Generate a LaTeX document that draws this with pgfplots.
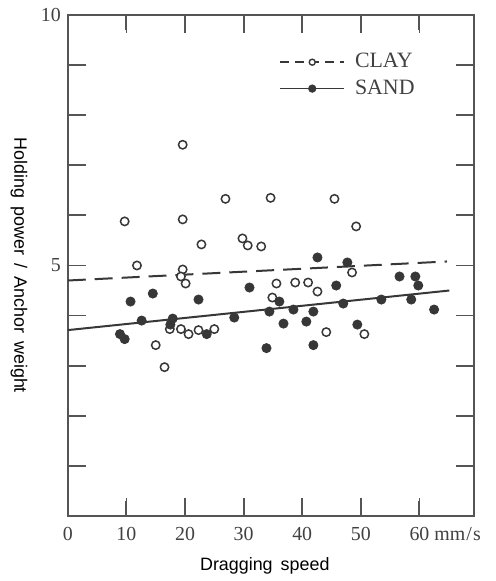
\documentclass[border=0pt]{standalone}
\usepackage{pgfplots}
\pgfplotsset{compat=1.18}
\usepackage{pgfplotstable}
\usepackage{fontspec}
\setmainfont{Liberation Serif}
\newfontfamily\labelfont{Liberation Sans}
\definecolor{axisgray}{RGB}{85,85,85}
\definecolor{textgray}{RGB}{65,65,65}
\definecolor{markgray}{RGB}{55,55,55}

% open circles
\pgfplotstableread{
x y
19.6 7.41
9.7 5.88
19.6 5.92
26.9 6.33
34.6 6.35
45.5 6.33
22.8 5.42
29.8 5.54
30.7 5.40
33.0 5.38
49.2 5.78
11.8 5.00
19.6 4.92
19.3 4.78
20.1 4.64
35.6 4.64
38.8 4.66
41.0 4.66
42.6 4.48
34.9 4.36
48.5 4.86
44.1 3.67
50.6 3.63
17.4 3.73
19.3 3.73
20.6 3.63
22.3 3.71
25.0 3.73
15.0 3.41
16.5 2.97
}\claydata

% filled circles
\pgfplotstableread{
x y
10.7 4.28
14.5 4.44
22.3 4.32
12.6 3.90
17.9 3.94
17.5 3.82
8.9 3.63
9.7 3.53
23.7 3.63
28.4 3.96
31.0 4.56
34.4 4.08
36.1 4.28
38.5 4.12
41.9 4.08
47.0 4.24
36.8 3.84
40.7 3.88
49.4 3.82
33.9 3.35
41.9 3.41
42.6 5.16
47.7 5.06
45.8 4.60
56.6 4.78
59.3 4.78
59.8 4.60
53.5 4.32
58.6 4.32
62.5 4.12
}\sanddata

\begin{document}
\begin{tikzpicture}
\begin{axis}[
  scale only axis,
  width=203.5bp, height=251bp,
  xmin=0, xmax=69.3, ymin=0, ymax=10,
  axis line style={draw=axisgray, line width=0.9bp},
  xtick={0,10,...,60},
  xticklabels={0,10,20,30,40,50,60\rlap{ mm\kern0.6pt/\kern0.6pt s}},
  ytick={1,...,10},
  yticklabels={,,,,5,,,,,10},
  tick style={color=axisgray, line width=0.9bp},
  tick align=inside,
  major tick length=9bp,
  ticklabel style={font=\fontsize{10}{12}\selectfont, text=textgray},
  xticklabel style={yshift=-2bp},
  xlabel={Dragging\hspace{0.45em}speed},
  ylabel={Holding\hspace{0.45em}power\hspace{0.45em}/\hspace{0.45em}Anchor\hspace{0.45em}weight},
  label style={font=\labelfont\fontsize{9}{11}\selectfont, text=black},
  xlabel style={at={(axis description cs:0.485,-0.1)}, anchor=center},
  ylabel style={at={(axis description cs:-0.12,0.5)}, anchor=center, rotate=180},
  legend style={at={(rel axis cs:0.52,0.932)}, anchor=north west,
                draw=none, fill=none, inner sep=0pt,
                font=\fontsize{11}{13}\selectfont, text=textgray,
                row sep=0.5bp,
                /tikz/every odd column/.style={column sep=3bp}},
  legend cell align=left,
  legend image code/.code={\draw[mark repeat=2,mark phase=2,#1]
      plot coordinates {(0bp,0bp)(16bp,0bp)(32bp,0bp)};},
  clip=false,
]
  % tick marks on all four sides, pointing inward (x ticks as thin filled bars)
  \pgfplotsinvokeforeach{10,20,30,40,50,60}{
    \fill[axisgray] ([xshift=-0.5bp]axis cs:#1,0) rectangle ([xshift=0.5bp,yshift=7.5bp]axis cs:#1,0);
    \fill[axisgray] ([xshift=-0.5bp]axis cs:#1,10) rectangle ([xshift=0.5bp,yshift=-7.5bp]axis cs:#1,10);
  }
  \pgfplotsinvokeforeach{1,...,9}{
    \draw[axisgray, line width=0.9bp] (axis cs:0,#1) -- ++(9bp,0bp);
    \draw[axisgray, line width=0.9bp] (axis cs:69.3,#1) -- ++(-9bp,0bp);
  }
  % fitted lines
  \addplot[markgray, line width=1bp, dash pattern=on 9bp off 4.5bp, forget plot]
    coordinates {(0,4.70)(64.7,5.08)};
  \addplot[markgray, line width=1bp, forget plot]
    coordinates {(0,3.71)(65.1,4.50)};
  % measurements
  \addplot[only marks, mark=*, mark size=2.1bp,
           mark options={fill=white, draw=markgray, line width=0.75bp}, forget plot]
    table[x=x, y=y] {\claydata};
  \addplot[only marks, mark=*, mark size=2.3bp,
           mark options={fill=markgray, draw=markgray}, forget plot]
    table[x=x, y=y] {\sanddata};

  \addlegendimage{markgray, line width=0.9bp, dash pattern=on 4.5bp off 3bp,
                  mark=*, mark size=1.5bp, mark options={solid, fill=white, line width=0.7bp}}
  \addlegendentry{CLAY}
  \addlegendimage{markgray, line width=0.9bp,
                  mark=*, mark size=1.6bp, mark options={fill=markgray}}
  \addlegendentry{SAND}

  \path (rel axis cs:-0.167,1.030) rectangle (rel axis cs:1.054,-0.1275);
\end{axis}
\end{tikzpicture}
\end{document}
